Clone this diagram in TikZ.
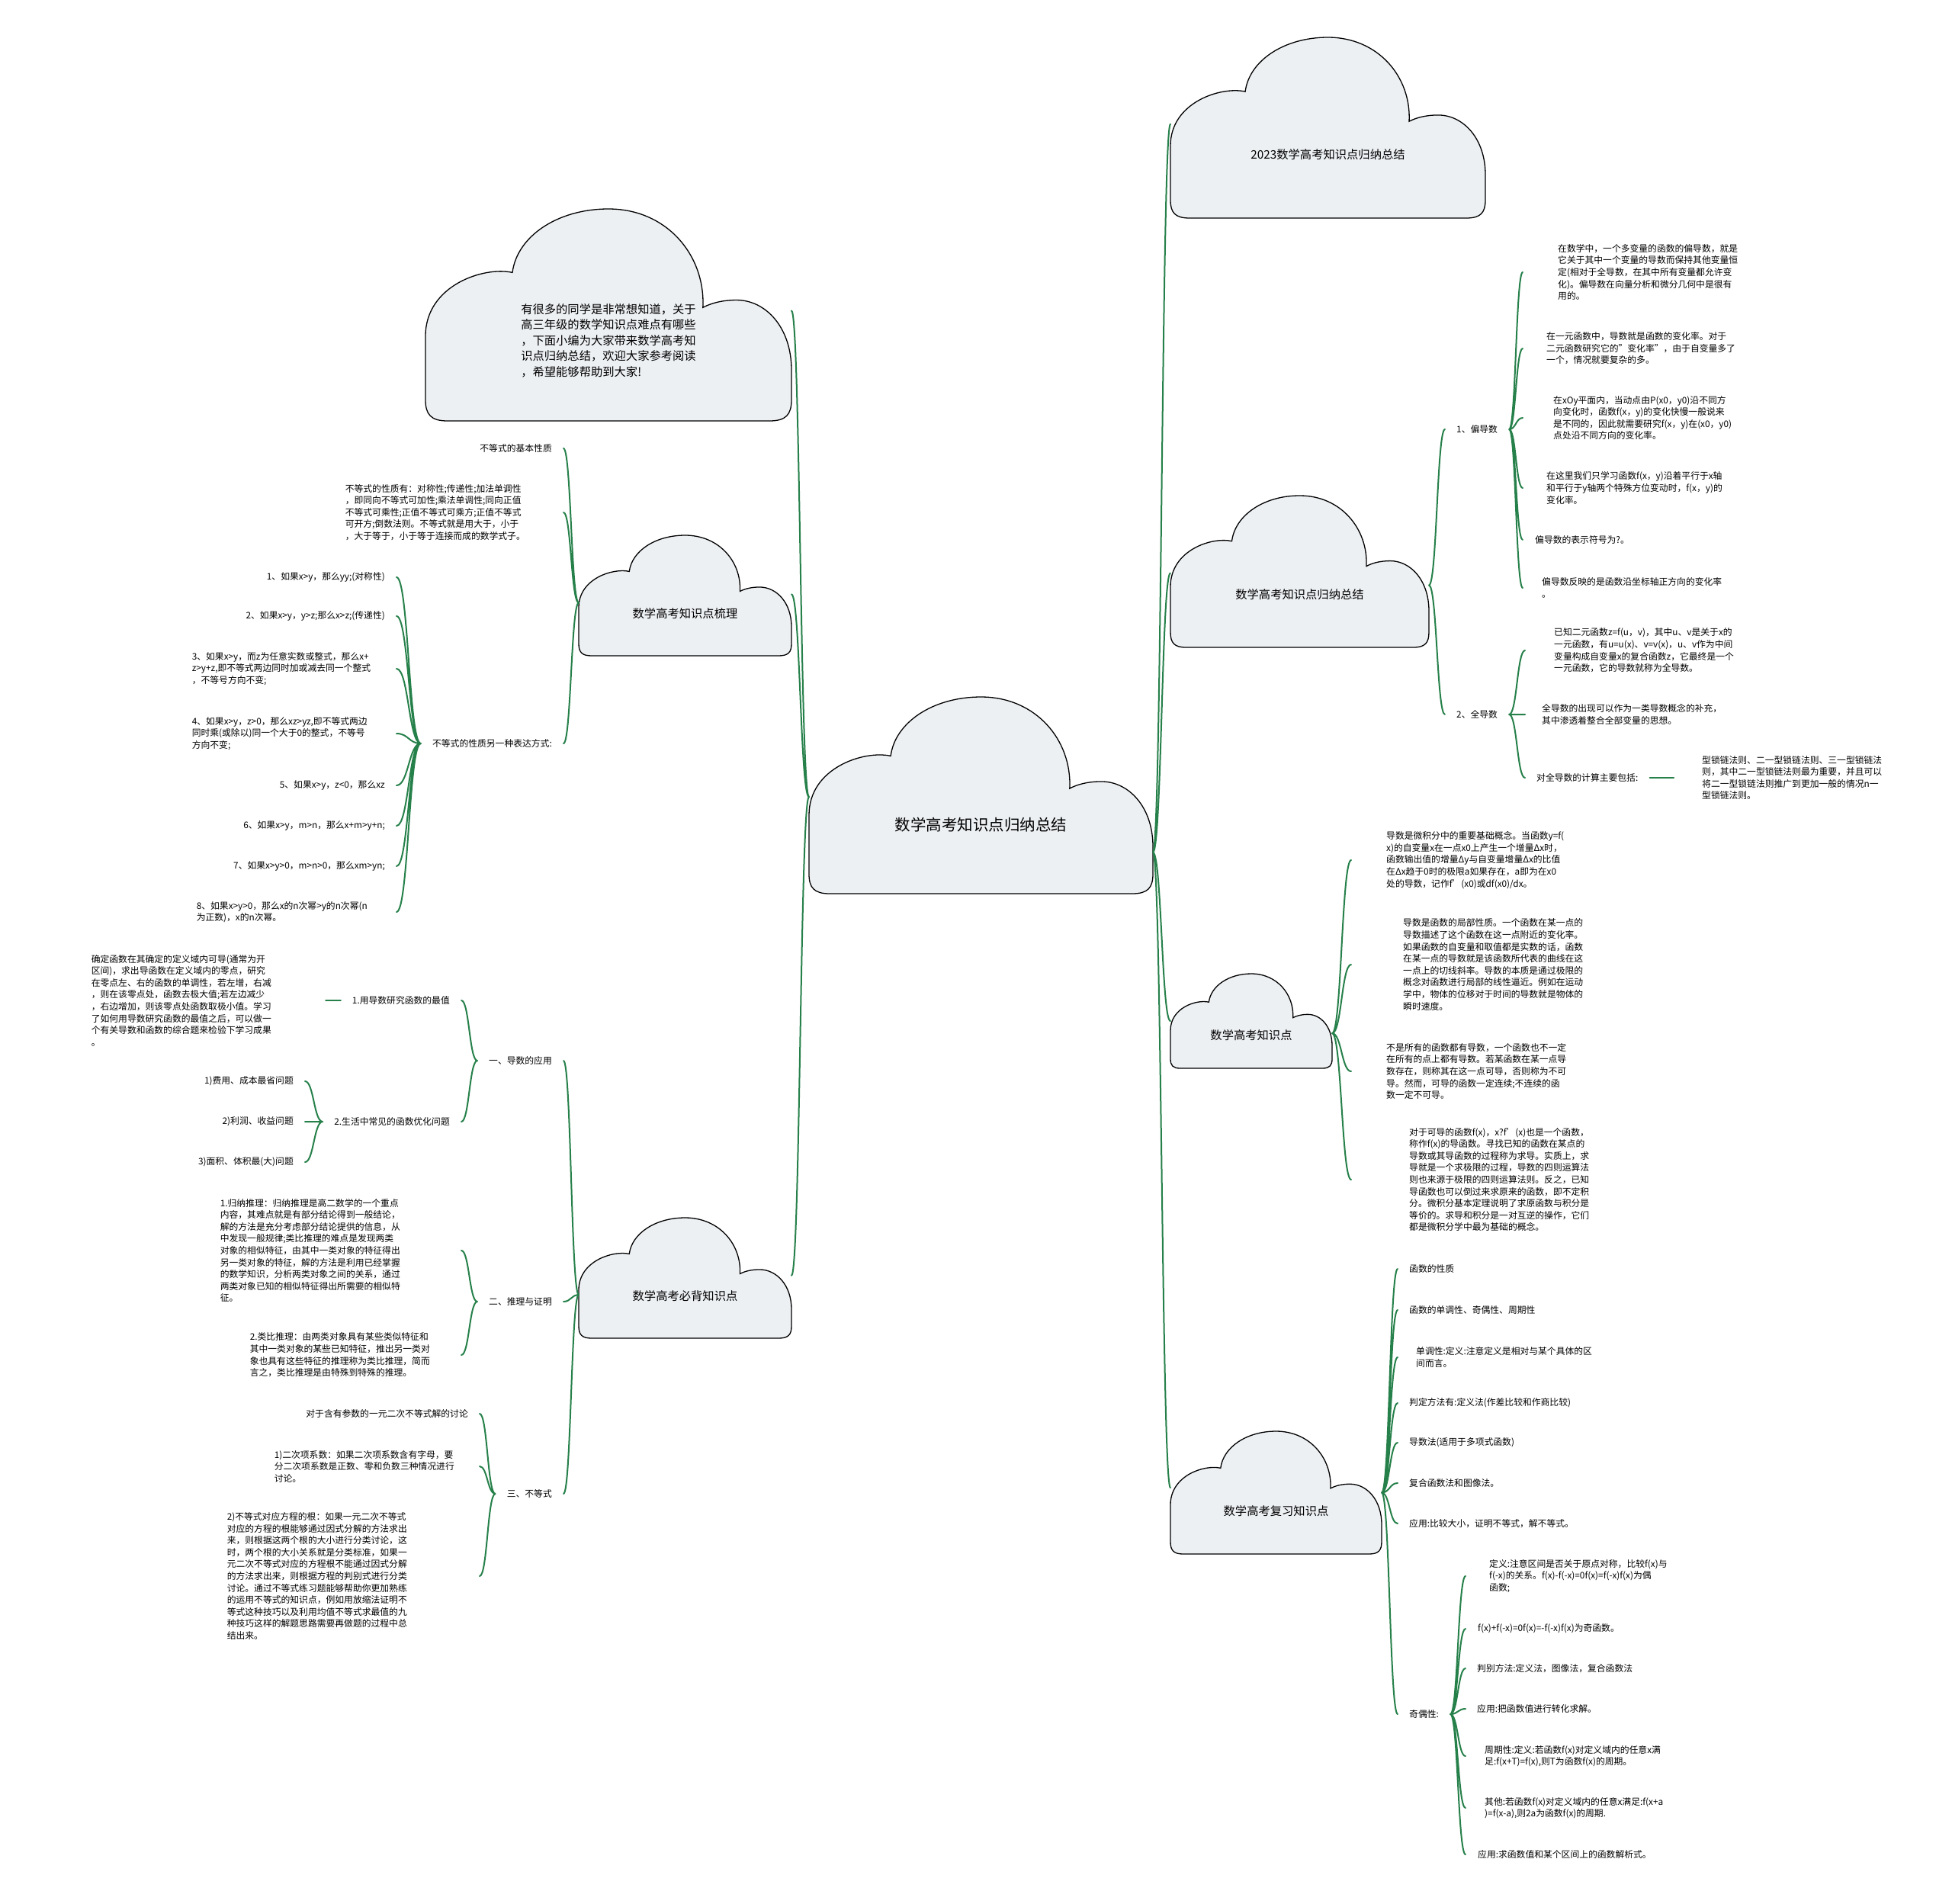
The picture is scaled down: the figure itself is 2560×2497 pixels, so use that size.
\documentclass[tikz,border=0pt]{standalone}
\usepackage{fontspec}
\setmainfont{Noto Sans CJK SC}
\usetikzlibrary{calc}
\definecolor{linkgreen}{RGB}{38,128,74}
\definecolor{cloudfill}{RGB}{237,240,243}
\tikzset{
  link/.style={draw=linkgreen,line width=2pt,line cap=round,
    to path={let \p1=(\tikztostart),\p2=(\tikztotarget) in
      .. controls ({(\x1+\x2)/2},\y1) and ({(\x1+\x2)/2},\y2) .. (\tikztotarget)}},
  cloudshape/.style={draw=black,fill=cloudfill,line width=1.3pt},
  cloudtxt/.style={font=\fontsize{15.3}{20.5}\selectfont,align=left,inner sep=0pt},
  bigtxt/.style={font=\fontsize{20.5}{26}\selectfont,inner sep=0pt},
  lt/.style={font=\fontsize{11.8}{15.6}\selectfont,align=left,inner xsep=15pt,inner ysep=2pt},
  ln/.style={lt,anchor=east},
  rn/.style={lt,anchor=west}
}
% cloud: name, x, y, width, height, text style, text, left and right attach
\newcommand\mapcloud[9]{%
  \begin{scope}[shift={(#2,#3)},x=#4pt,y=-#5pt]
    \draw[cloudshape] (0.06,1) -- (0.94,1)
      .. controls (0.985,1) and (1,0.97) .. (1,0.9) -- (1,0.76)
      .. controls (1,0.56) and (0.93,0.43) .. (0.85,0.43)
      .. controls (0.81,0.43) and (0.78,0.445) .. (0.758,0.465)
      .. controls (0.765,0.22) and (0.66,0) .. (0.5,0)
      .. controls (0.36,0) and (0.25,0.13) .. (0.2375,0.30)
      .. controls (0.16,0.27) and (0,0.36) .. (0,0.6)
      -- (0,0.9) .. controls (0,0.97) and (0.015,1) .. (0.06,1) -- cycle;
    \node[#6] (#1) at (0.5,0.65) {#7};
    \coordinate (#1-w) at (0,#8);
    \coordinate (#1-e) at (1,#9);
  \end{scope}}

\begin{document}
\begin{tikzpicture}[x=1pt,y=-1pt]
\useasboundingbox (0,0) rectangle (2560,2497);

% clouds
\mapcloud{c}{1061}{914}{451}{258}{bigtxt}{数学高考知识点归纳总结}{0.508}{0.79}
\mapcloud{intro}{558}{274}{480}{278}{cloudtxt,yshift=8pt}{有很多的同学是非常想知道，关于\\高三年级的数学知识点难点有哪些\\，下面小编为大家带来数学高考知\\识点归纳总结，欢迎大家参考阅读\\，希望能够帮助到大家!}{0.5}{0.48}
\mapcloud{ka}{759}{702}{279}{158}{cloudtxt}{数学高考知识点梳理}{0.56}{0.49}
\mapcloud{kb}{759}{1597}{279}{158}{cloudtxt}{数学高考必背知识点}{0.64}{0.48}
\mapcloud{ta}{1535}{49}{413}{237}{cloudtxt}{2023数学高考知识点归纳总结}{0.48}{0.5}
\mapcloud{ra}{1535}{650}{339}{199}{cloudtxt}{数学高考知识点归纳总结}{0.51}{0.59}
\mapcloud{rb}{1535}{1277}{212}{124}{cloudtxt}{数学高考知识点}{0.5}{0.63}
\mapcloud{rc}{1535}{1877}{277}{161}{cloudtxt}{数学高考复习知识点}{0.46}{0.5}

% left: 梳理
\node[ln] (jbxz) at (739,588) {不等式的基本性质};
\node[ln,text width=271pt] (xzy) at (739,672) {不等式的性质有：对称性;传递性;加法单调性\\，即同向不等式可加性;乘法单调性;同向正值\\不等式可乘性;正值不等式可乘方;正值不等式\\可开方;倒数法则。不等式就是用大于，小于\\，大于等于，小于等于连接而成的数学式子。};
\node[ln] (lingyi) at (739,975) {不等式的性质另一种表达方式:};
\node[ln] (bd1) at (520,757) {1、如果x>y，那么yy;(对称性)};
\node[ln] (bd2) at (520,808) {2、如果x>y，y>z;那么x>z;(传递性)};
\node[ln,text width=253pt] (bd3) at (520,877) {3、如果x>y，而z为任意实数或整式，那么x+\\z>y+z,即不等式两边同时加或减去同一个整式\\，不等号方向不变;};
\node[ln,text width=253pt] (bd4) at (520,962) {4、如果x>y，z>0，那么xz>yz,即不等式两边\\同时乘(或除以)同一个大于0的整式，不等号\\方向不变;};
\node[ln] (bd5) at (520,1030) {5、如果x>y，z<0，那么xz};
\node[ln] (bd6) at (520,1083) {6、如果x>y，m>n，那么x+m>y+n;};
\node[ln] (bd7) at (520,1136) {7、如果x>y>0，m>n>0，那么xm>yn;};
\node[ln,text width=247pt] (bd8) at (520,1196) {8、如果x>y>0，那么x的n次幂>y的n次幂(n\\为正数)，x的n次幂。};

% left: 必背
\node[ln] (dsyy) at (739,1391) {一、导数的应用};
\node[ln] (tlzm) at (739,1707) {二、推理与证明};
\node[ln] (bdsh) at (739,1959) {三、不等式};
\node[ln] (zuizhi) at (605,1312) {1.用导数研究函数的最值};
\node[ln] (youhua) at (605,1471) {2.生活中常见的函数优化问题};
\node[ln,text width=292pt] (zzsm) at (427,1312) {确定函数在其确定的定义域内可导(通常为开\\区间)，求出导函数在定义域内的零点，研究\\在零点左、右的函数的单调性，若左增，右减\\，则在该零点处，函数去极大值;若左边减少\\，右边增加，则该零点处函数取极小值。学习\\了如何用导数研究函数的最值之后，可以做一\\个有关导数和函数的综合题来检验下学习成果\\。};
\node[ln] (yh1) at (400,1418) {1)费用、成本最省问题};
\node[ln] (yh2) at (400,1471) {2)利润、收益问题};
\node[ln] (yh3) at (400,1524) {3)面积、体积最(大)问题};
\node[ln,text width=301pt] (guina) at (605,1640) {1.归纳推理：归纳推理是高二数学的一个重点\\内容，其难点就是有部分结论得到一般结论，\\解的方法是充分考虑部分结论提供的信息，从\\中发现一般规律;类比推理的难点是发现两类\\对象的相似特征，由其中一类对象的特征得出\\另一类对象的特征，解的方法是利用已经掌握\\的数学知识，分析两类对象之间的关系，通过\\两类对象已知的相似特征得出所需要的相似特\\征。};
\node[ln,text width=262pt] (leibi) at (605,1777) {2.类比推理：由两类对象具有某些类似特征和\\其中一类对象的某些已知特征，推出另一类对\\象也具有这些特征的推理称为类比推理，简而\\言之，类比推理是由特殊到特殊的推理。};
\node[ln] (canshu) at (629,1854) {对于含有参数的一元二次不等式解的讨论};
\node[ln,text width=254pt] (xishu) at (629,1923) {1)二次项系数：如果二次项系数含有字母，要\\分二次项系数是正数、零和负数三种情况进行\\讨论。};
\node[ln,text width=316pt] (genn) at (629,2067) {2)不等式对应方程的根：如果一元二次不等式\\对应的方程的根能够通过因式分解的方法求出\\来，则根据这两个根的大小进行分类讨论，这\\时，两个根的大小关系就是分类标准，如果一\\元二次不等式对应的方程根不能通过因式分解\\的方法求出来，则根据方程的判别式进行分类\\讨论。通过不等式练习题能够帮助你更加熟练\\的运用不等式的知识点，例如用放缩法证明不\\等式这种技巧以及利用均值不等式求最值的九\\种技巧这样的解题思路需要再做题的过程中总\\结出来。};

% right: 归纳总结
\node[rn] (pds) at (1895,563) {1、偏导数};
\node[rn] (qds) at (1895,937) {2、全导数};
\node[rn,inner xsep=46pt] (pd1) at (1997,357) {在数学中，一个多变量的函数的偏导数，就是\\它关于其中一个变量的导数而保持其他变量恒\\定(相对于全导数，在其中所有变量都允许变\\化)。偏导数在向量分析和微分几何中是很有\\用的。};
\node[rn,inner xsep=31pt] (pd2) at (1997,457) {在一元函数中，导数就是函数的变化率。对于\\二元函数研究它的"变化率"，由于自变量多了\\一个，情况就要复杂的多。};
\node[rn,inner xsep=40pt] (pd3) at (1997,548) {在xOy平面内，当动点由P(x0，y0)沿不同方\\向变化时，函数f(x，y)的变化快慢一般说来\\是不同的，因此就需要研究f(x，y)在(x0，y0)\\点处沿不同方向的变化率。};
\node[rn,inner xsep=31pt] (pd4) at (1997,640) {在这里我们只学习函数f(x，y)沿着平行于x轴\\和平行于y轴两个特殊方位变动时，f(x，y)的\\变化率。};
\node[rn,inner xsep=16pt] (pd5) at (1997,708) {偏导数的表示符号为?。};
\node[rn,inner xsep=25pt] (pd6) at (1997,771) {偏导数反映的是函数沿坐标轴正方向的变化率\\。};
\node[rn,inner xsep=38pt] (qd1) at (2000,853) {已知二元函数z=f(u，v)，其中u、v是关于x的\\一元函数，有u=u(x)、v=v(x)，u、v作为中间\\变量构成自变量x的复合函数z，它最终是一个\\一元函数，它的导数就称为全导数。};
\node[rn,inner xsep=22pt] (qd2) at (2000,937) {全导数的出现可以作为一类导数概念的补充，\\其中渗透着整合全部变量的思想。};
\node[rn] (qd3) at (2000,1020) {对全导数的计算主要包括:};
\node[rn,inner xsep=37pt] (qd4) at (2195,1020) {型锁链法则、二一型锁链法则、三一型锁链法\\则，其中二一型锁链法则最为重要，并且可以\\将二一型锁链法则推广到更加一般的情况n一\\型锁链法则。};

% right: 知识点
\node[rn,inner xsep=46pt] (dd1) at (1772,1128) {导数是微积分中的重要基础概念。当函数y=f(\\x)的自变量x在一点x0上产生一个增量Δx时，\\函数输出值的增量Δy与自变量增量Δx的比值\\在Δx趋于0时的极限a如果存在，a即为在x0\\处的导数，记作f'(x0)或df(x0)/dx。};
\node[rn,inner xsep=68pt] (dd2) at (1772,1265) {导数是函数的局部性质。一个函数在某一点的\\导数描述了这个函数在这一点附近的变化率。\\如果函数的自变量和取值都是实数的话，函数\\在某一点的导数就是该函数所代表的曲线在这\\一点上的切线斜率。导数的本质是通过极限的\\概念对函数进行局部的线性逼近。例如在运动\\学中，物体的位移对于时间的导数就是物体的\\瞬时速度。};
\node[rn,inner xsep=46pt] (dd3) at (1772,1405) {不是所有的函数都有导数，一个函数也不一定\\在所有的点上都有导数。若某函数在某一点导\\数存在，则称其在这一点可导，否则称为不可\\导。然而，可导的函数一定连续;不连续的函\\数一定不可导。};
\node[rn,inner xsep=76pt] (dd4) at (1772,1547) {对于可导的函数f(x)，x?f'(x)也是一个函数，\\称作f(x)的导函数。寻找已知的函数在某点的\\导数或其导函数的过程称为求导。实质上，求\\导就是一个求极限的过程，导数的四则运算法\\则也来源于极限的四则运算法则。反之，已知\\导函数也可以倒过来求原来的函数，即不定积\\分。微积分基本定理说明了求原函数与积分是\\等价的。求导和积分是一对互逆的操作，它们\\都是微积分学中最为基础的概念。};

% right: 复习
\node[rn] (hs1) at (1833,1664) {函数的性质};
\node[rn] (hs2) at (1833,1718) {函数的单调性、奇偶性、周期性};
\node[rn,inner xsep=24pt] (hs3) at (1833,1780) {单调性:定义:注意定义是相对与某个具体的区\\间而言。};
\node[rn] (hs4) at (1833,1840) {判定方法有:定义法(作差比较和作商比较)};
\node[rn] (hs5) at (1833,1892) {导数法(适用于多项式函数)};
\node[rn] (hs6) at (1833,1945) {复合函数法和图像法。};
\node[rn] (hs7) at (1833,1998) {应用:比较大小，证明不等式，解不等式。};
\node[rn] (jox) at (1833,2248) {奇偶性:};
\node[rn,inner xsep=31pt] (jo1) at (1922,2067) {定义:注意区间是否关于原点对称，比较f(x)与\\f(-x)的关系。f(x)-f(-x)=0f(x)=f(-x)f(x)为偶\\函数;};
\node[rn,inner xsep=16pt] (jo2) at (1922,2136) {f(x)+f(-x)=0f(x)=-f(-x)f(x)为奇函数。};
\node[rn] (jo3) at (1922,2188) {判别方法:定义法，图像法，复合函数法};
\node[rn] (jo4) at (1922,2241) {应用:把函数值进行转化求解。};
\node[rn,inner xsep=25pt] (jo5) at (1922,2303) {周期性:定义:若函数f(x)对定义域内的任意x满\\足:f(x+T)=f(x),则T为函数f(x)的周期。};
\node[rn,inner xsep=25pt] (jo6) at (1922,2371) {其他:若函数f(x)对定义域内的任意x满足:f(x+a\\)=f(x-a),则2a为函数f(x)的周期.};
\node[rn,inner xsep=16pt] (jo7) at (1922,2432) {应用:求函数值和某个区间上的函数解析式。};

% links
\draw[link] (c-w) to (intro-e) (c-w) to (ka-e) (c-w) to (kb-e);
\draw[link] (c-e) to (ta-w) (c-e) to (ra-w) (c-e) to (rb-w) (c-e) to (rc-w);
\draw[link] (ka-w) to (jbxz.east) (ka-w) to (xzy.east) (ka-w) to (lingyi.east);
\draw[link] (lingyi.west) to (bd1.east) (lingyi.west) to (bd2.east)
  (lingyi.west) to (bd3.east) (lingyi.west) to (bd4.east)
  (lingyi.west) to (bd5.east) (lingyi.west) to (bd6.east)
  (lingyi.west) to (bd7.east) (lingyi.west) to (bd8.east);
\draw[link] (kb-w) to (dsyy.east) (kb-w) to (tlzm.east) (kb-w) to (bdsh.east);
\draw[link] (dsyy.west) to (zuizhi.east) (dsyy.west) to (youhua.east);
\draw[link] (zuizhi.west) to (zzsm.east);
\draw[link] (youhua.west) to (yh1.east) (youhua.west) to (yh2.east) (youhua.west) to (yh3.east);
\draw[link] (tlzm.west) to (guina.east) (tlzm.west) to (leibi.east);
\draw[link] (bdsh.west) to (canshu.east) (bdsh.west) to (xishu.east) (bdsh.west) to (genn.east);
\draw[link] (ra-e) to (pds.west) (ra-e) to (qds.west);
\draw[link] (pds.east) to (pd1.west) (pds.east) to (pd2.west) (pds.east) to (pd3.west)
  (pds.east) to (pd4.west) (pds.east) to (pd5.west) (pds.east) to (pd6.west);
\draw[link] (qds.east) to (qd1.west) (qds.east) to (qd2.west) (qds.east) to (qd3.west);
\draw[link] (qd3.east) to (qd4.west);
\draw[link] (rb-e) to (dd1.west) (rb-e) to (dd2.west) (rb-e) to (dd3.west) (rb-e) to (dd4.west);
\draw[link] (rc-e) to (hs1.west) (rc-e) to (hs2.west) (rc-e) to (hs3.west) (rc-e) to (hs4.west)
  (rc-e) to (hs5.west) (rc-e) to (hs6.west) (rc-e) to (hs7.west) (rc-e) to (jox.west);
\draw[link] (jox.east) to (jo1.west) (jox.east) to (jo2.west) (jox.east) to (jo3.west)
  (jox.east) to (jo4.west) (jox.east) to (jo5.west) (jox.east) to (jo6.west) (jox.east) to (jo7.west);
\end{tikzpicture}
\end{document}
